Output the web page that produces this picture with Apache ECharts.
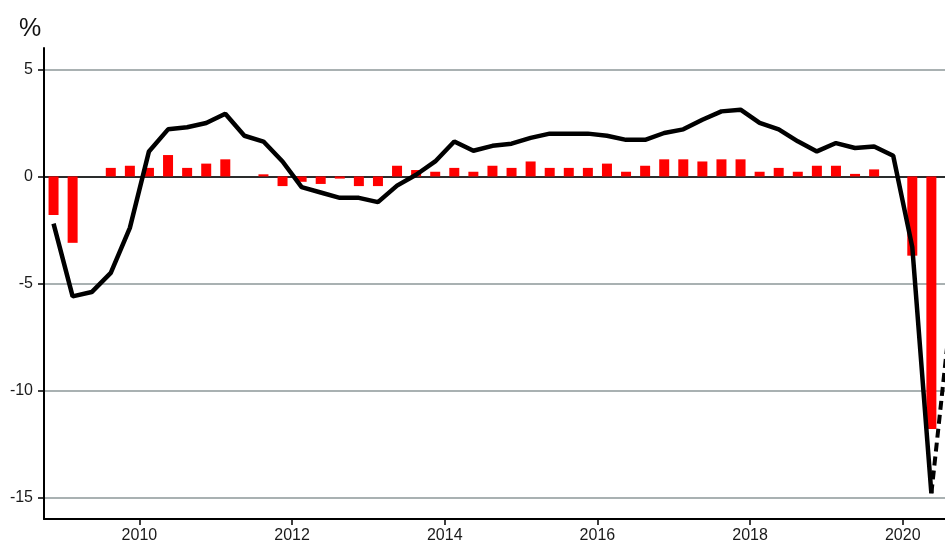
<!DOCTYPE html>
<html>
<head>
<meta charset="utf-8">
<script src="https://cdn.jsdelivr.net/npm/echarts@6/dist/echarts.min.js"></script>
<style>
  html, body { margin: 0; padding: 0; background: #fff; }
  #chart { width: 945px; height: 551px; }
</style>
</head>
<body>
<div id="chart"></div>
<script>
// quarters 2008Q4 .. 2020Q3
var quarters = []
for (var y = 2008; y <= 2020; y++) {
    for (var q = 1; q <= 4; q++) {
        if (y === 2008 && q < 4) continue
        if (y === 2020 && q > 3) continue
        quarters.push(y + "Q" + q)
    }
}

// quarter-on-quarter change, % (red bars), 2008Q4 .. 2020Q2
var qoq = [
    -1.8, -3.1, 0, 0.4, 0.5, 0.4, 1.0, 0.4, 0.6, 0.8,
    0, 0.1, -0.45, -0.25, -0.35, -0.1, -0.45, -0.45, 0.5, 0.3,
    0.22, 0.4, 0.22, 0.5, 0.4, 0.7, 0.4, 0.4, 0.4, 0.6,
    0.22, 0.5, 0.8, 0.8, 0.7, 0.8, 0.8, 0.22, 0.4, 0.22,
    0.5, 0.5, 0.12, 0.33, 0, -3.7, -11.8
]

// year-on-year change, % (black line), 2008Q4 .. 2020Q2
var yoy = [
    -2.2, -5.6, -5.4, -4.5, -2.4, 1.17, 2.2, 2.3, 2.5, 2.93,
    1.9, 1.63, 0.7, -0.5, -0.75, -1.0, -1.0, -1.2, -0.43, 0.08,
    0.7, 1.63, 1.2, 1.43, 1.53, 1.8, 2.0, 2.0, 2.0, 1.9,
    1.71, 1.71, 2.03, 2.2, 2.65, 3.04, 3.12, 2.5, 2.2, 1.64,
    1.17, 1.56, 1.33, 1.4, 0.97, -3.3, -14.8
]

// forecast for 2020Q3 (dashed)
var yoyForecast = -6.5

var yearTicks = [2010, 2012, 2014, 2016, 2018, 2020]
var yTicks = [-15, -10, -5, 0, 5]

var dashed = quarters.map(function () { return null })
dashed[yoy.length - 1] = yoy[yoy.length - 1]
dashed[yoy.length] = yoyForecast

var chart = echarts.init(document.getElementById("chart"))
var option = {
    animation: false,
    backgroundColor: "#fff",
    textStyle: { fontFamily: "Liberation Sans, Arial, sans-serif" },
    title: {
        text: "%",
        left: 14,
        top: 12,
        textStyle: { fontSize: 25, fontWeight: "normal", color: "#111" }
    },
    grid: {
        left: 44,
        right: -15,
        top: 48,
        bottom: 32,
        outerBoundsMode: "none"
    },
    xAxis: [
        {
            type: "category",
            data: quarters,
            boundaryGap: true,
            position: "bottom",
            axisLine: { show: true, onZero: true, lineStyle: { color: "#000", width: 1.5 } },
            axisTick: { show: false },
            axisLabel: { show: false },
            splitLine: { show: false }
        },
        {
            type: "value",
            min: 2008.75,
            max: 2020.75,
            position: "bottom",
            axisLine: { show: true, onZero: false, lineStyle: { color: "#000", width: 2 } },
            axisTick: { show: true, length: 6, customValues: yearTicks, lineStyle: { color: "#000", width: 1.5 } },
            axisLabel: {
                customValues: yearTicks,
                formatter: function (v) { return String(v) },
                color: "#1a1a1a",
                fontSize: 16,
                margin: 9
            },
            splitLine: { show: false }
        }
    ],
    yAxis: {
        type: "value",
        min: -16,
        max: 6,
        axisLine: { show: true, onZero: false, lineStyle: { color: "#000", width: 2 } },
        axisTick: { show: true, length: 6, customValues: yTicks, lineStyle: { color: "#000", width: 1.5 } },
        axisLabel: { customValues: yTicks, color: "#1a1a1a", fontSize: 16, margin: 11 },
        splitLine: { show: true, lineStyle: { color: "#8d9799", width: 1.5 } }
    },
    series: [
        {
            type: "bar",
            xAxisIndex: 0,
            data: qoq,
            barWidth: 10,
            itemStyle: { color: "#ff0000" }
        },
        {
            type: "line",
            xAxisIndex: 0,
            data: yoy,
            showSymbol: false,
            lineStyle: { color: "#000", width: 4.5 }
        },
        {
            type: "line",
            xAxisIndex: 0,
            data: dashed,
            showSymbol: false,
            connectNulls: false,
            lineStyle: { color: "#000", width: 4, type: [9, 5] }
        }
    ]
}
chart.setOption(option)
</script>
</body>
</html>
